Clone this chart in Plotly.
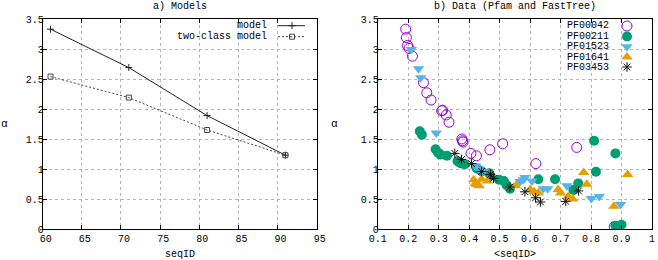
import plotly.graph_objects as go

# ---------------- data ----------------
model_x = [61, 71, 81, 91]
model_y = [3.33, 2.69, 1.89, 1.23]
two_class_x = [61, 71, 81, 91]
two_class_y = [2.54, 2.19, 1.65, 1.23]

pf00042_x = [0.192, 0.194, 0.198, 0.203, 0.214, 0.250, 0.261, 0.275, 0.310, 0.313, 0.325, 0.334,
             0.376, 0.378, 0.380, 0.406, 0.424, 0.468, 0.510, 0.619, 0.753, 0.876]
pf00042_y = [3.33, 3.19, 3.06, 3.01, 2.88, 2.44, 2.27, 2.15, 1.97, 1.98, 1.90, 1.78,
             1.50, 1.47, 1.45, 1.26, 1.22, 1.32, 1.42, 1.09, 1.36, 0.04]

pf00211_x = [0.238, 0.245, 0.290, 0.298, 0.306, 0.327, 0.362, 0.368, 0.376, 0.386, 0.425, 0.441,
             0.466, 0.470, 0.498, 0.514, 0.523, 0.534, 0.627, 0.682, 0.742, 0.758, 0.810,
             0.816, 0.880, 0.880, 0.900]
pf00211_y = [1.63, 1.57, 1.33, 1.27, 1.24, 1.22, 1.13, 1.11, 1.09, 1.08, 1.01, 0.96,
             0.93, 0.89, 0.82, 0.80, 0.73, 0.67, 0.83, 0.83, 0.65, 0.76, 1.47,
             0.955, 1.26, 0.055, 0.07]

pf01523_x = [0.210, 0.234, 0.241, 0.292, 0.420, 0.432, 0.447, 0.567, 0.578, 0.583, 0.606,
             0.643, 0.658, 0.721, 0.801, 0.827, 0.897]
pf01523_y = [2.99, 2.67, 2.52, 1.60, 1.05, 1.00, 0.96, 0.79, 0.82, 0.86, 0.80,
             0.67, 0.67, 0.72, 0.51, 0.54, 0.41]

pf01641_x = [0.415, 0.420, 0.425, 0.433, 0.441, 0.460, 0.553, 0.600, 0.613, 0.627, 0.692,
             0.700, 0.725, 0.740, 0.776, 0.786, 0.875, 0.920]
pf01641_y = [0.82, 0.76, 0.74, 0.72, 0.83, 0.80, 0.72, 0.66, 0.62, 0.60, 0.66,
             0.60, 0.54, 0.50, 0.94, 0.745, 0.38, 0.91]

pf03453_x = [0.353, 0.375, 0.408, 0.441, 0.470, 0.480, 0.534, 0.583, 0.618, 0.634, 0.717, 0.759]
pf03453_y = [1.26, 1.16, 1.09, 0.96, 0.91, 0.845, 0.70, 0.62, 0.52, 0.45, 0.46, 0.635]

left_xticks = [60, 65, 70, 75, 80, 85, 90, 95]
right_xticks = [0.1, 0.2, 0.3, 0.4, 0.5, 0.6, 0.7, 0.8, 0.9, 1.0]
right_xticktext = ["0.1", "0.2", "0.3", "0.4", "0.5", "0.6", "0.7", "0.8", "0.9", "1"]
yticks = [0, 0.5, 1, 1.5, 2, 2.5, 3, 3.5]

# ---------------- styling ----------------
W, H = 658, 260
FONT = "Liberation Mono, Courier New, DejaVu Sans Mono, monospace"
C_VIOLET = "#9400d3"
C_GREEN = "#009e73"
C_BLUE = "#56b4e9"
C_ORANGE = "#e69f00"
C_BLACK = "#111111"
C_MODEL = "#222222"
C_TWO = "#444444"

series = [
    ("PF00042", pf00042_x, pf00042_y, dict(symbol="circle-open", size=10, color=C_VIOLET,
                                            line=dict(color=C_VIOLET, width=1))),
    ("PF00211", pf00211_x, pf00211_y, dict(symbol="circle", size=10, color=C_GREEN,
                                            line=dict(width=0))),
    ("PF01523", pf01523_x, pf01523_y, dict(symbol="triangle-down", size=10, color=C_BLUE,
                                            line=dict(width=0))),
    ("PF01641", pf01641_x, pf01641_y, dict(symbol="triangle-up", size=10, color=C_ORANGE,
                                            line=dict(width=0))),
    ("PF03453", pf03453_x, pf03453_y, dict(symbol="asterisk-open", size=8, color=C_BLACK,
                                            line=dict(color=C_BLACK, width=1))),
]
model_marker = dict(symbol="cross-thin-open", size=5, color=C_MODEL,
                    line=dict(color=C_MODEL, width=1))
two_marker = dict(symbol="square-open", size=5, color=C_TWO, line=dict(color=C_TWO, width=1))
two_dash = "2px,2px"

fig = go.Figure()

# left panel
fig.add_trace(go.Scatter(x=model_x, y=model_y, mode="lines+markers", name="model",
                         line=dict(color=C_MODEL, width=1), marker=model_marker,
                         xaxis="x", yaxis="y", showlegend=False))
fig.add_trace(go.Scatter(x=two_class_x, y=two_class_y, mode="lines+markers", name="two-class model",
                         line=dict(color=C_TWO, width=1, dash=two_dash), marker=two_marker,
                         xaxis="x", yaxis="y", showlegend=False))

# right panel
for name, xs, ys, mk in series:
    fig.add_trace(go.Scatter(x=xs, y=ys, mode="markers", name=name, marker=mk,
                             xaxis="x2", yaxis="y2", showlegend=False))


def ann(x, y, text, xanchor="center", size=10):
    fig.add_annotation(x=x / W, y=1 - y / H, xref="paper", yref="paper", text=text,
                       showarrow=False, xanchor=xanchor, yanchor="middle",
                       font=dict(family=FONT, size=size, color="black"))


# ---------- gnuplot-style legends (keys drawn on a pixel overlay axis) ----------
ann(269, 25.7, "model", "right")
ann(269, 36.7, "two-class model", "right")
fig.add_trace(go.Scatter(x=[278, 305], y=[25.7, 25.7], mode="lines",
                         line=dict(color=C_MODEL, width=1), xaxis="x3", yaxis="y3",
                         showlegend=False, hoverinfo="skip"))
fig.add_trace(go.Scatter(x=[292], y=[25.7], mode="markers", marker=model_marker,
                         xaxis="x3", yaxis="y3", showlegend=False, hoverinfo="skip"))
fig.add_trace(go.Scatter(x=[278, 305], y=[36.7, 36.7], mode="lines",
                         line=dict(color=C_TWO, width=1, dash=two_dash), xaxis="x3", yaxis="y3",
                         showlegend=False, hoverinfo="skip"))
fig.add_trace(go.Scatter(x=[292], y=[36.7], mode="markers", marker=two_marker,
                         xaxis="x3", yaxis="y3", showlegend=False, hoverinfo="skip"))

right_rows_y = [26, 36.5, 46.8, 57, 67]
for (name, xs, ys, mk), yy in zip(series, right_rows_y):
    ann(565, yy, name, "left")
    fig.add_trace(go.Scatter(x=[627], y=[yy], mode="markers", marker=mk,
                             xaxis="x3", yaxis="y3", showlegend=False, hoverinfo="skip"))

# titles and axis labels
ann(180, 6, "a) Models")
ann(515, 6, "b) Data (Pfam and FastTree)")
ann(180, 254, "seqID")
ann(515, 254, "&lt;seqID&gt;")
ann(4, 124, "α", size=11)
ann(334, 124, "α", size=11)

axis_common = dict(showline=True, linecolor="black", linewidth=1, mirror="allticks",
                   ticks="inside", ticklen=4, tickcolor="black", tickwidth=1,
                   showgrid=True, gridcolor="#b4b4b4", griddash="dot", gridwidth=1,
                   zeroline=False, tickfont=dict(family=FONT, size=10, color="black"),
                   fixedrange=True, automargin=False)

y_bottom = 1 - 229 / H
y_top = 1 - 19 / H

fig.update_layout(
    width=W, height=H,
    margin=dict(l=0, r=0, t=0, b=0, pad=0, autoexpand=False),
    paper_bgcolor="white", plot_bgcolor="rgba(0,0,0,0)",
    showlegend=False,
    xaxis=dict(domain=[42.7 / W, 316.7 / W], range=[60, 95], tickvals=left_xticks,
               anchor="y", ticklabelshift=3, **axis_common),
    yaxis=dict(domain=[y_bottom, y_top], range=[0, 3.5], tickvals=yticks,
               anchor="x", ticklabelstandoff=-4, **axis_common),
    xaxis2=dict(domain=[377.7 / W, 652 / W], range=[0.1, 1.0], tickvals=right_xticks,
                ticktext=right_xticktext, anchor="y2", **axis_common),
    yaxis2=dict(domain=[y_bottom, y_top], range=[0, 3.5], tickvals=yticks,
                anchor="x2", ticklabelstandoff=-4, **axis_common),
    xaxis3=dict(domain=[0, 1], range=[0, W], visible=False, fixedrange=True, anchor="y3",
                automargin=False),
    yaxis3=dict(domain=[0, 1], range=[H, 0], visible=False, fixedrange=True, anchor="x3",
                automargin=False),
)

fig.write_html("out.html", config={"displayModeBar": False, "staticPlot": True},
               post_script="document.body.style.margin='0';document.body.style.overflow='hidden';")
